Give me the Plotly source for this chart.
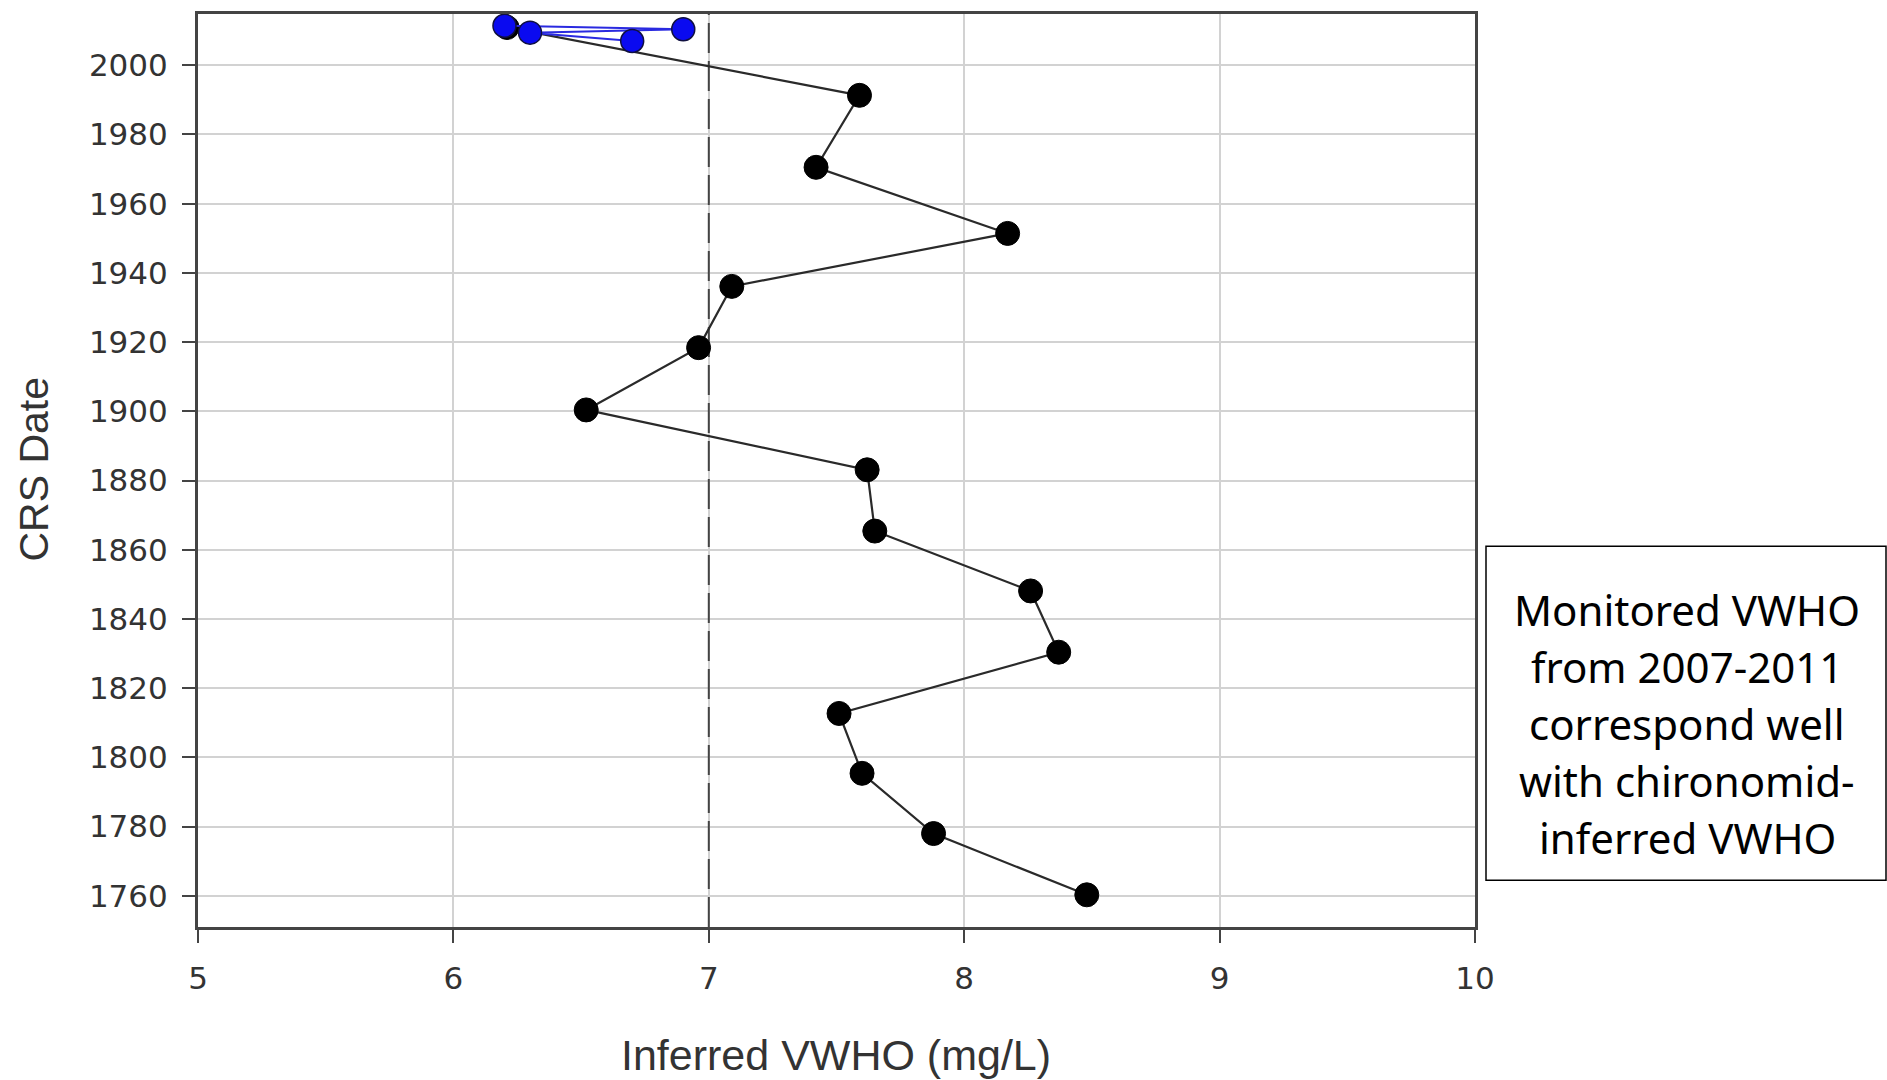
import plotly.graph_objects as go

# ---- data ----
core_dates = [2010.9, 1991.3, 1970.5, 1951.4, 1936.1, 1918.4, 1900.4, 1883.1,
              1865.4, 1848.1, 1830.4, 1812.7, 1795.4, 1778.0, 1760.3]
core_vwho = [6.21, 7.59, 7.42, 8.17, 7.09, 6.96, 6.52, 7.62,
             7.65, 8.26, 8.37, 7.51, 7.60, 7.88, 8.48]
mon_dates = [2007.0, 2009.4, 2010.4, 2011.4]
mon_vwho = [6.70, 6.30, 6.90, 6.20]
threshold = 7.0
x_ticks = [5, 6, 7, 8, 9, 10]
y_ticks = list(range(1760, 2001, 20))
note_lines = ["Monitored VWHO", "from 2007-2011", "correspond well",
              "with chironomid-", "inferred VWHO"]

W, H = 1887, 1080
L, R, T, B = 198, 1475, 11, 927

def px(xp):
    return (xp - L) / (R - L)

def py(yp):
    return (B - yp) / (B - T)

fig = go.Figure()
fig.add_trace(go.Scatter(
    x=[threshold, threshold], y=[1751, 2014.8], mode="lines",
    line=dict(color="#444444", width=2, dash="30px,8px"),
    hoverinfo="skip", showlegend=False))
fig.add_trace(go.Scatter(
    x=core_vwho, y=core_dates, mode="lines+markers",
    line=dict(color="#2a2a2a", width=2.2),
    marker=dict(color="black", size=24, line=dict(color="black", width=1)),
    showlegend=False))
fig.add_trace(go.Scatter(
    x=mon_vwho, y=mon_dates, mode="lines+markers",
    line=dict(color="#2a2ae0", width=2),
    marker=dict(color="#0a0af0", size=23, line=dict(color="#101040", width=1.5)),
    showlegend=False))

axis_common = dict(showline=True, linecolor="#444444", linewidth=3, mirror=True,
                   showgrid=True, gridcolor="#d2d2d2", gridwidth=2,
                   ticks="outside", ticklen=13, tickwidth=2, tickcolor="#444444",
                   zeroline=False,
                   tickfont=dict(family="DejaVu Sans, Liberation Sans, Arial",
                                 size=31, color="#333333"))

fig.update_layout(
    width=W, height=H,
    margin=dict(l=L, r=W - R, t=T, b=H - B),
    paper_bgcolor="white", plot_bgcolor="white",
    xaxis=dict(range=[5, 10], tickvals=x_ticks, ticklabelstandoff=9, **axis_common),
    yaxis=dict(range=[1751, 2014.8], tickvals=y_ticks, ticklabelstandoff=8,
               **axis_common),
)

fig.add_annotation(text="Inferred VWHO (mg/L)", xref="paper", yref="paper",
                   x=px(836), y=py(1055),
                   showarrow=False, xanchor="center", yanchor="middle",
                   font=dict(family="Liberation Sans, Arial", size=43, color="#333333"))
fig.add_annotation(text="CRS Date", xref="paper", yref="paper",
                   x=px(34), y=py(468), textangle=-90,
                   showarrow=False, xanchor="center", yanchor="middle",
                   font=dict(family="Liberation Sans, Arial", size=41, color="#333333"))

# note box
bx0, bx1, by0, by1 = 1486, 1886, 545, 880
fig.add_shape(type="rect", xref="paper", yref="paper",
              x0=px(bx0), x1=px(bx1), y0=py(by1), y1=py(by0),
              line=dict(color="black", width=1.5), fillcolor="white")
line_y0, line_dy = 608, 57.2
for i, t in enumerate(note_lines):
    fig.add_annotation(text=t, xref="paper", yref="paper",
                       x=px(1687), y=py(line_y0 + i * line_dy),
                       showarrow=False, xanchor="center", yanchor="middle",
                       font=dict(family="Noto Sans, Open Sans", size=42, color="black"))

fig.write_html("out.html")
